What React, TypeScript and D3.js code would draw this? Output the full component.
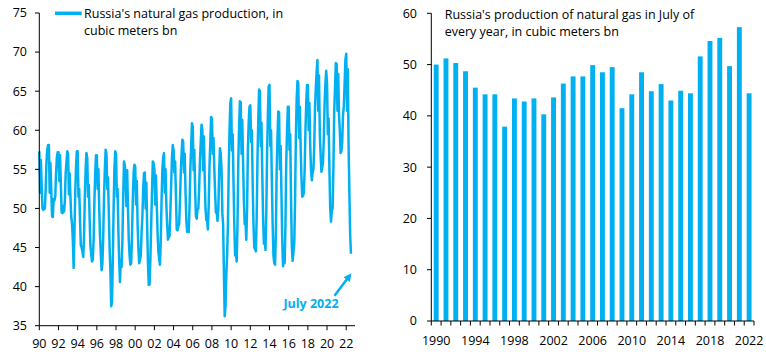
import React from "react";
import * as d3 from "d3";

// ---------- DATA ----------
// Left chart: Russia's monthly natural gas production (bcm), Jan 1990 – Jul 2022
const startYear = 1990;
const monthlyGas: number[] = [
  // 1990
  57.3, 52.0, 56.2, 53.0, 50.0, 49.8, 50.0, 50.0, 52.5, 56.0, 57.5, 58.1,
  // 1991
  58.1, 52.0, 55.8, 52.5, 49.0, 48.9, 51.2, 51.0, 51.5, 54.5, 56.5, 57.2,
  // 1992
  57.2, 53.5, 56.8, 53.0, 49.5, 49.4, 50.3, 49.6, 51.0, 54.5, 56.0, 57.3,
  // 1993
  57.0, 51.8, 54.5, 51.5, 49.0, 48.0, 46.0, 42.4, 47.0, 52.0, 55.5, 57.3,
  // 1994
  57.3, 51.5, 52.5, 48.5, 45.3, 45.0, 44.5, 43.8, 46.5, 51.5, 55.0, 57.1,
  // 1995
  56.5, 51.5, 53.0, 48.8, 45.3, 44.2, 43.2, 43.5, 46.0, 51.0, 54.5, 56.8,
  // 1996
  56.8, 52.5, 55.0, 50.0, 46.5, 44.2, 42.1, 43.0, 46.5, 51.5, 55.0, 57.5,
  // 1997
  57.0, 52.5, 54.0, 49.5, 45.0, 42.0, 37.5, 38.0, 43.5, 50.0, 55.0, 57.3,
  // 1998
  57.0, 51.5, 52.5, 47.0, 43.4, 40.6, 43.4, 42.5, 46.0, 51.5, 56.0, 55.5,
  // 1999
  54.0, 50.3, 54.9, 50.0, 46.0, 44.0, 42.8, 43.0, 46.5, 51.0, 54.5, 55.6,
  // 2000
  55.4, 50.5, 53.5, 48.0, 45.0, 43.0, 43.4, 44.0, 47.0, 49.0, 52.5, 54.5,
  // 2001
  54.6, 50.0, 53.3, 47.5, 43.0, 40.2, 40.3, 43.5, 48.0, 52.0, 56.0, 55.8,
  // 2002
  55.0, 50.5, 54.2, 50.5, 47.0, 44.5, 43.6, 42.8, 46.0, 51.0, 55.0, 56.5,
  // 2003
  57.1, 52.0, 55.0, 50.5, 48.0, 46.0, 46.3, 46.5, 49.5, 53.0, 56.5, 58.1,
  // 2004
  57.5, 54.6, 56.0, 51.5, 47.3, 47.2, 47.7, 48.0, 51.0, 54.5, 57.0, 58.8,
  // 2005
  58.5, 54.6, 57.0, 52.0, 48.5, 47.0, 47.7, 47.0, 50.5, 55.0, 58.0, 60.9,
  // 2006
  60.5, 54.9, 57.5, 52.5, 49.0, 48.7, 49.9, 50.0, 52.5, 56.0, 58.5, 60.7,
  // 2007
  60.0, 54.9, 59.2, 54.0, 50.0, 48.5, 48.5, 47.3, 50.5, 55.5, 58.5, 61.7,
  // 2008
  61.5, 57.0, 59.0, 55.0, 52.0, 49.5, 49.5, 48.4, 50.0, 54.5, 57.7, 57.0,
  // 2009
  55.0, 49.4, 48.0, 42.0, 36.2, 37.5, 41.5, 44.0, 48.0, 55.0, 60.0, 63.5,
  // 2010
  64.1, 57.4, 59.5, 53.5, 48.0, 44.0, 44.2, 43.2, 48.0, 56.0, 60.5, 63.7,
  // 2011
  63.6, 57.0, 61.3, 56.0, 51.0, 48.0, 48.5, 46.0, 50.0, 57.5, 61.0, 63.0,
  // 2012
  63.2, 58.5, 60.0, 53.0, 48.0, 45.0, 44.8, 44.5, 49.0, 56.5, 61.5, 65.2,
  // 2013
  65.0, 58.0, 61.0, 54.5, 49.0, 45.5, 46.2, 44.7, 49.5, 57.0, 62.0, 65.6,
  // 2014
  65.8, 58.0, 60.0, 53.5, 48.0, 44.0, 43.0, 42.8, 47.0, 55.0, 59.0, 62.4,
  // 2015
  62.3, 55.0, 58.0, 52.0, 46.0, 42.6, 44.9, 43.0, 48.0, 56.0, 60.0, 63.0,
  // 2016
  63.0, 57.5, 59.5, 51.0, 45.0, 43.3, 44.4, 45.5, 51.0, 59.0, 64.0, 66.3,
  // 2017
  66.0, 59.0, 63.0, 58.0, 54.0, 51.5, 51.6, 52.0, 55.0, 60.0, 63.5, 65.8,
  // 2018
  65.8, 60.0, 63.5, 58.0, 55.0, 53.6, 54.6, 55.0, 58.0, 63.0, 65.5, 67.5,
  // 2019
  69.0, 62.5, 67.0, 59.5, 57.0, 54.7, 55.2, 56.0, 59.0, 63.5, 66.0, 67.6,
  // 2020
  66.0, 59.5, 61.5, 55.0, 50.0, 48.3, 49.7, 50.0, 55.5, 62.5, 65.5, 68.6,
  // 2021
  68.5, 62.5, 67.2, 62.0, 60.0, 57.1, 57.3, 58.5, 62.0, 63.0, 66.0, 69.0,
  // 2022
  69.8, 62.5, 67.8, 58.0, 52.0, 46.5, 44.2,
];

const leftYTicks = [35, 40, 45, 50, 55, 60, 65, 70, 75];
const leftXTickYears = [1990, 1992, 1994, 1996, 1998, 2000, 2002, 2004, 2006, 2008, 2010, 2012, 2014, 2016, 2018, 2020, 2022];
const leftLegend = ["Russia's natural gas production, in", "cubic meters bn"];
const annotation = "July 2022";

// Right chart: July production each year
const julyYears = [
  1990, 1991, 1992, 1993, 1994, 1995, 1996, 1997, 1998, 1999, 2000, 2001, 2002, 2003, 2004, 2005,
  2006, 2007, 2008, 2009, 2010, 2011, 2012, 2013, 2014, 2015, 2016, 2017, 2018, 2019, 2020, 2021, 2022,
];
const julyValues = [
  50.0, 51.2, 50.3, 48.7, 45.5, 44.2, 44.2, 37.9, 43.4, 42.8, 43.4, 40.3, 43.6, 46.3, 47.7, 47.7,
  49.9, 48.5, 49.5, 41.5, 44.2, 48.5, 44.8, 46.2, 43.0, 44.9, 44.4, 51.6, 54.6, 55.2, 49.7, 57.3, 44.4,
];
const rightYTicks = [0, 10, 20, 30, 40, 50, 60];
const rightXLabelYears = [1990, 1994, 1998, 2002, 2006, 2010, 2014, 2018, 2022];
const rightTitle = ["Russia's production of natural gas in July of", "every year, in cubic meters bn"];

// ---------- STYLE ----------
const BLUE = "#00B0F0";
const FONT = "'Open Sans', 'Liberation Sans', sans-serif";
const FS = 12.5;

export default function App() {
  // Left chart scales
  const lx = d3
    .scaleTime()
    .domain([new Date(1990, 0, 1), new Date(2022, 11, 1)])
    .range([39.3, 355]);
  const ly = d3.scaleLinear().domain([35, 75]).range([325.7, 13]);
  const points = monthlyGas.map((v, i) => ({ date: new Date(startYear, i, 1), v }));
  const line = d3
    .line<{ date: Date; v: number }>()
    .x((d) => lx(d.date))
    .y((d) => ly(d.v));
  const fmtYY = d3.timeFormat("%y");

  // Right chart scales
  const rx = d3
    .scaleBand<number>()
    .domain(julyYears)
    .range([431.3, 754])
    .paddingInner(0.5)
    .paddingOuter(0.25);
  const ry = d3.scaleLinear().domain([0, 60]).range([321, 13.3]);
  const step = rx.step();
  const rxStart = 431.3;

  const lastPt = points[points.length - 1];
  const arrowEnd = { x: lx(lastPt.date) - 1.5, y: ly(lastPt.v) + 22 };
  const arrowStart = { x: arrowEnd.x - 15, y: arrowEnd.y + 20 };

  return (
    <svg
      width={766}
      height={355}
      style={{ position: "absolute", left: 0, top: 0, background: "#fff" }}
      fontFamily={FONT}
    >
      <defs>
        <marker id="ah" viewBox="0 0 10 10" refX="6" refY="5" markerWidth="3.2" markerHeight="3.2" orient="auto">
          <path d="M0,0 L10,5 L0,10 z" fill={BLUE} />
        </marker>
      </defs>

      {/* ---------- LEFT CHART ---------- */}
      <g>
        <path d={line(points) || ""} fill="none" stroke={BLUE} strokeWidth={2.5} strokeLinejoin="round" />
        {/* y axis */}
        <line x1={39.3} x2={39.3} y1={ly(75)} y2={ly(35)} stroke="#000" strokeWidth={1} />
        {leftYTicks.map((t) => (
          <g key={t}>
            <line x1={35} x2={39.3} y1={ly(t)} y2={ly(t)} stroke="#000" />
            <text x={27} y={ly(t)} dy="0.35em" textAnchor="end" fontSize={FS} fill="#000">
              {t}
            </text>
          </g>
        ))}
        {/* x axis */}
        <line x1={39.3} x2={355} y1={ly(35)} y2={ly(35)} stroke="#000" />
        {leftXTickYears.map((yr) => {
          const x = lx(new Date(yr, 0, 1));
          return (
            <g key={yr}>
              <line x1={x} x2={x} y1={ly(35)} y2={ly(35) + 4.5} stroke="#000" />
              <text x={x} y={347.5} textAnchor="middle" fontSize={FS} fill="#000">
                {fmtYY(new Date(yr, 0, 1))}
              </text>
            </g>
          );
        })}
        {/* legend */}
        <line x1={55} x2={81.7} y1={13.3} y2={13.3} stroke={BLUE} strokeWidth={3.5} />
        <text x={84} y={18} fontSize={FS} fill="#000">
          {leftLegend[0]}
        </text>
        <text x={84} y={34.7} fontSize={FS} fill="#000">
          {leftLegend[1]}
        </text>
        {/* annotation */}
        <line
          x1={arrowStart.x}
          y1={arrowStart.y}
          x2={arrowEnd.x}
          y2={arrowEnd.y}
          stroke={BLUE}
          strokeWidth={2.5}
          markerEnd="url(#ah)"
        />
        <text x={311} y={307.5} textAnchor="middle" fontSize={FS} fontWeight="bold" fill={BLUE}>
          {annotation}
        </text>
      </g>

      {/* ---------- RIGHT CHART ---------- */}
      <g>
        {julyYears.map((yr, i) => (
          <rect
            key={yr}
            x={rx(yr)}
            y={ry(julyValues[i])}
            width={rx.bandwidth()}
            height={ry(0) - ry(julyValues[i])}
            fill={BLUE}
          />
        ))}
        <line x1={rxStart} x2={rxStart} y1={ry(60)} y2={ry(0)} stroke="#000" />
        {rightYTicks.map((t) => (
          <g key={t}>
            <line x1={427} x2={rxStart} y1={ry(t)} y2={ry(t)} stroke="#000" />
            <text x={417} y={ry(t)} dy="0.35em" textAnchor="end" fontSize={FS} fill="#000">
              {t}
            </text>
          </g>
        ))}
        <line x1={rxStart} x2={754} y1={ry(0)} y2={ry(0)} stroke="#000" />
        {julyYears.concat([julyYears[julyYears.length - 1] + 1]).map((yr, i) => {
          const x = rxStart + i * step;
          return <line key={"t" + yr} x1={x} x2={x} y1={ry(0)} y2={ry(0) + 4.5} stroke="#000" />;
        })}
        {rightXLabelYears.map((yr) => (
          <text
            key={"l" + yr}
            x={(rx(yr) || 0) + rx.bandwidth() / 2}
            y={344.5}
            textAnchor="middle"
            fontSize={FS}
            fill="#000"
          >
            {yr}
          </text>
        ))}
        <text x={444.7} y={18.5} fontSize={FS} fill="#000">
          {rightTitle[0]}
        </text>
        <text x={444.7} y={36} fontSize={FS} fill="#000">
          {rightTitle[1]}
        </text>
      </g>
    </svg>
  );
}
